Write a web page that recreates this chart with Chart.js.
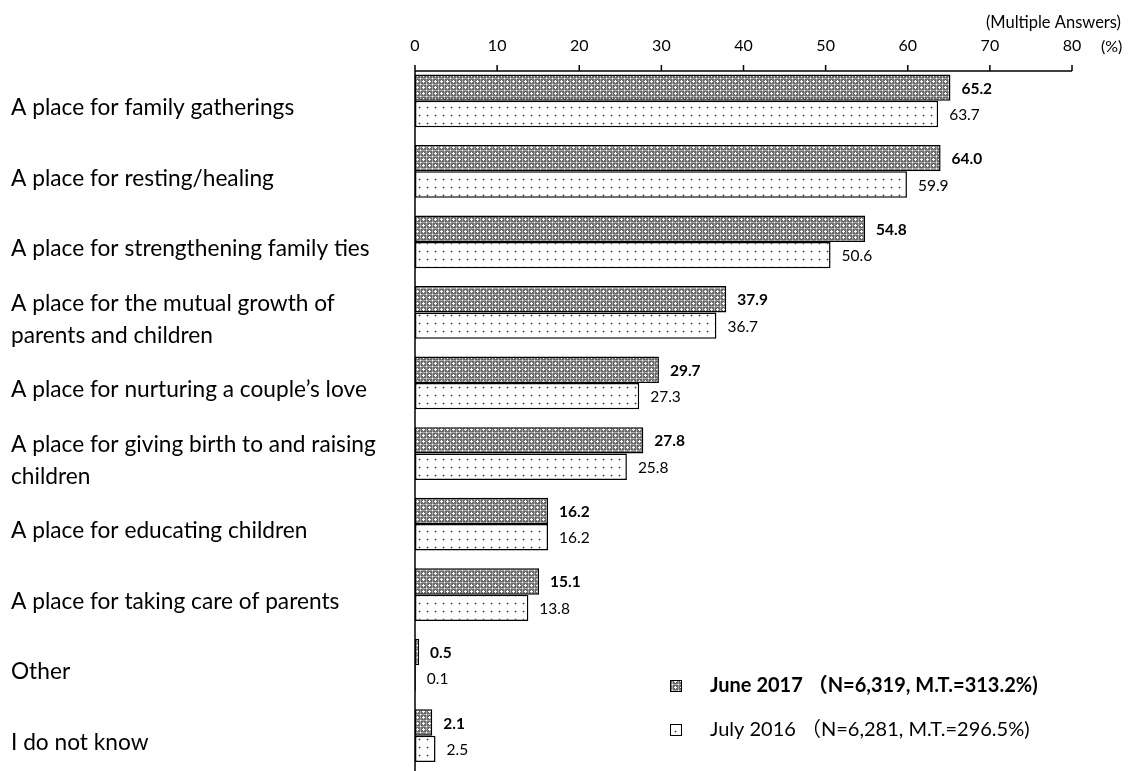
<!DOCTYPE html>
<html>
<head>
<meta charset="utf-8">
<script src="https://cdn.jsdelivr.net/npm/chart.js@4/dist/chart.umd.min.js"></script>
<style>
  html, body { margin: 0; padding: 0; background: #fff; }
  #wrap { width: 1131px; height: 771px; position: relative; }
</style>
</head>
<body>
<div id="wrap"><canvas id="c" width="1131" height="771"></canvas></div>
<script>
const categories = [
  "A place for family gatherings",
  "A place for resting/healing",
  "A place for strengthening family ties",
  ["A place for the mutual growth of", "parents and children"],
  "A place for nurturing a couple\u2019s love",
  ["A place for giving birth to and raising", "children"],
  "A place for educating children",
  "A place for taking care of parents",
  "Other",
  "I do not know"
];
const june2017 = [65.2, 64.0, 54.8, 37.9, 29.7, 27.8, 16.2, 15.1, 0.5, 2.1];
const july2016 = [63.7, 59.9, 50.6, 36.7, 27.3, 25.8, 16.2, 13.8, 0.1, 2.5];
const seriesNames = ["June 2017 \uFF08N=6,319, M.T.=313.2%)", "July 2016 \uFF08N=6,281, M.T.=296.5%)"];
const xTicks = [0, 10, 20, 30, 40, 50, 60, 70, 80];
const noteText = "(Multiple Answers)";
const unitText = "(%)";

const FONT = "Lato, 'Noto Sans CJK JP', sans-serif";

function makeCheckPattern() {
  const c = document.createElement('canvas');
  c.width = 6; c.height = 6;
  const g = c.getContext('2d');
  g.fillStyle = '#6a6a6a'; g.fillRect(0, 0, 6, 6);
  g.fillStyle = '#a8a8a8';
  g.fillRect(0, 0, 6, 1); g.fillRect(0, 0, 1, 6);
  g.fillStyle = '#ffffff';
  g.fillRect(3, 2, 1, 3); g.fillRect(2, 3, 3, 1);
  g.fillRect(0, 0, 1, 1);
  return g.createPattern(c, 'repeat');
}
function makeDotPattern() {
  const c = document.createElement('canvas');
  c.width = 8; c.height = 8;
  const g = c.getContext('2d');
  g.fillStyle = '#ffffff'; g.fillRect(0, 0, 8, 8);
  g.fillStyle = '#bdbdbd';
  g.fillRect(2, 3, 3, 1); g.fillRect(3, 2, 1, 3);
  g.fillStyle = '#333333';
  g.fillRect(3, 3, 1, 1);
  return g.createPattern(c, 'repeat');
}
const patJune = makeCheckPattern();
const patJuly = makeDotPattern();

const overlay = {
  id: 'overlay',
  afterDatasetsDraw(chart) {
    const ctx = chart.ctx;
    const xs = chart.scales.x;
    ctx.save();
    // value labels
    chart.data.datasets.forEach((ds, di) => {
      const meta = chart.getDatasetMeta(di);
      ctx.font = (di === 0 ? 'bold ' : '') + '15.5px ' + FONT;
      ctx.fillStyle = '#000';
      ctx.textAlign = 'left';
      ctx.textBaseline = 'middle';
      meta.data.forEach((bar, i) => {
        ctx.fillText(ds.data[i].toFixed(1), bar.x + 11, bar.y + 1);
      });
    });
    // axes lines
    const x0 = xs.getPixelForValue(0);
    const x80 = xs.getPixelForValue(80);
    const axisY = 71;
    ctx.strokeStyle = '#000';
    ctx.lineWidth = 1.5;
    ctx.beginPath();
    ctx.moveTo(x0, axisY); ctx.lineTo(x80, axisY);
    ctx.moveTo(x0, axisY); ctx.lineTo(x0, chart.height);
    xTicks.forEach(v => {
      const px = xs.getPixelForValue(v);
      ctx.moveTo(px, axisY); ctx.lineTo(px, axisY - 6);
    });
    ctx.stroke();
    // notes
    ctx.font = '16.5px ' + FONT;
    ctx.textAlign = 'right';
    ctx.textBaseline = 'middle';
    ctx.fillText(noteText, 1121, 23);
    ctx.textAlign = 'left';
    ctx.font = '16px ' + FONT;
    ctx.fillText(unitText, 1101, 47);
    // legend
    const pats = [patJune, patJuly];
    const ys = [686, 730];
    seriesNames.forEach((name, i) => {
      ctx.fillStyle = pats[i];
      ctx.fillRect(670, ys[i] - 6, 12, 12);
      ctx.strokeStyle = '#000';
      ctx.lineWidth = 1;
      ctx.strokeRect(670.5, ys[i] - 5.5, 11, 11);
      ctx.fillStyle = '#000';
      ctx.font = (i === 0 ? 'bold ' : '') + '20px ' + FONT;
      ctx.textAlign = 'left';
      ctx.textBaseline = 'middle';
      ctx.fillText(name, 710, ys[i]);
    });
    ctx.restore();
  }
};

new Chart(document.getElementById('c'), {
  type: 'bar',
  data: {
    labels: categories,
    datasets: [
      { label: seriesNames[0], data: june2017, backgroundColor: patJune, borderColor: '#000', borderWidth: 1.5, borderSkipped: false },
      { label: seriesNames[1], data: july2016, backgroundColor: patJuly, borderColor: '#000', borderWidth: 1.5, borderSkipped: false }
    ]
  },
  options: {
    indexAxis: 'y',
    responsive: false,
    animation: false,
    devicePixelRatio: 1,
    layout: { padding: { left: 11, right: 59, top: 0, bottom: -4.5 } },
    plugins: { legend: { display: false }, tooltip: { enabled: false } },
    datasets: { bar: { categoryPercentage: 0.747, barPercentage: 1.0 } },
    scales: {
      x: {
        position: 'top',
        min: 0, max: 80,
        afterFit(s) { s.height = 65.5; s.paddingLeft = 0; s.paddingRight = 0; },
        afterBuildTicks(s) { s.ticks = xTicks.map(v => ({ value: v })); },
        grid: { display: false, drawTicks: false },
        border: { display: false },
        ticks: { color: '#000', font: { family: FONT, size: 16 }, padding: 10, maxRotation: 0 }
      },
      y: {
        afterFit(s) { s.width = 404; s.paddingTop = 0; s.paddingBottom = 0; },
        grid: { display: false, drawTicks: false },
        border: { display: false },
        ticks: {
          color: '#000', crossAlign: 'far', autoSkip: false, padding: 0, labelOffset: 7,
          font: { family: FONT, size: 22.7, lineHeight: 1.4 }
        }
      }
    }
  },
  plugins: [overlay]
});
</script>
</body>
</html>
